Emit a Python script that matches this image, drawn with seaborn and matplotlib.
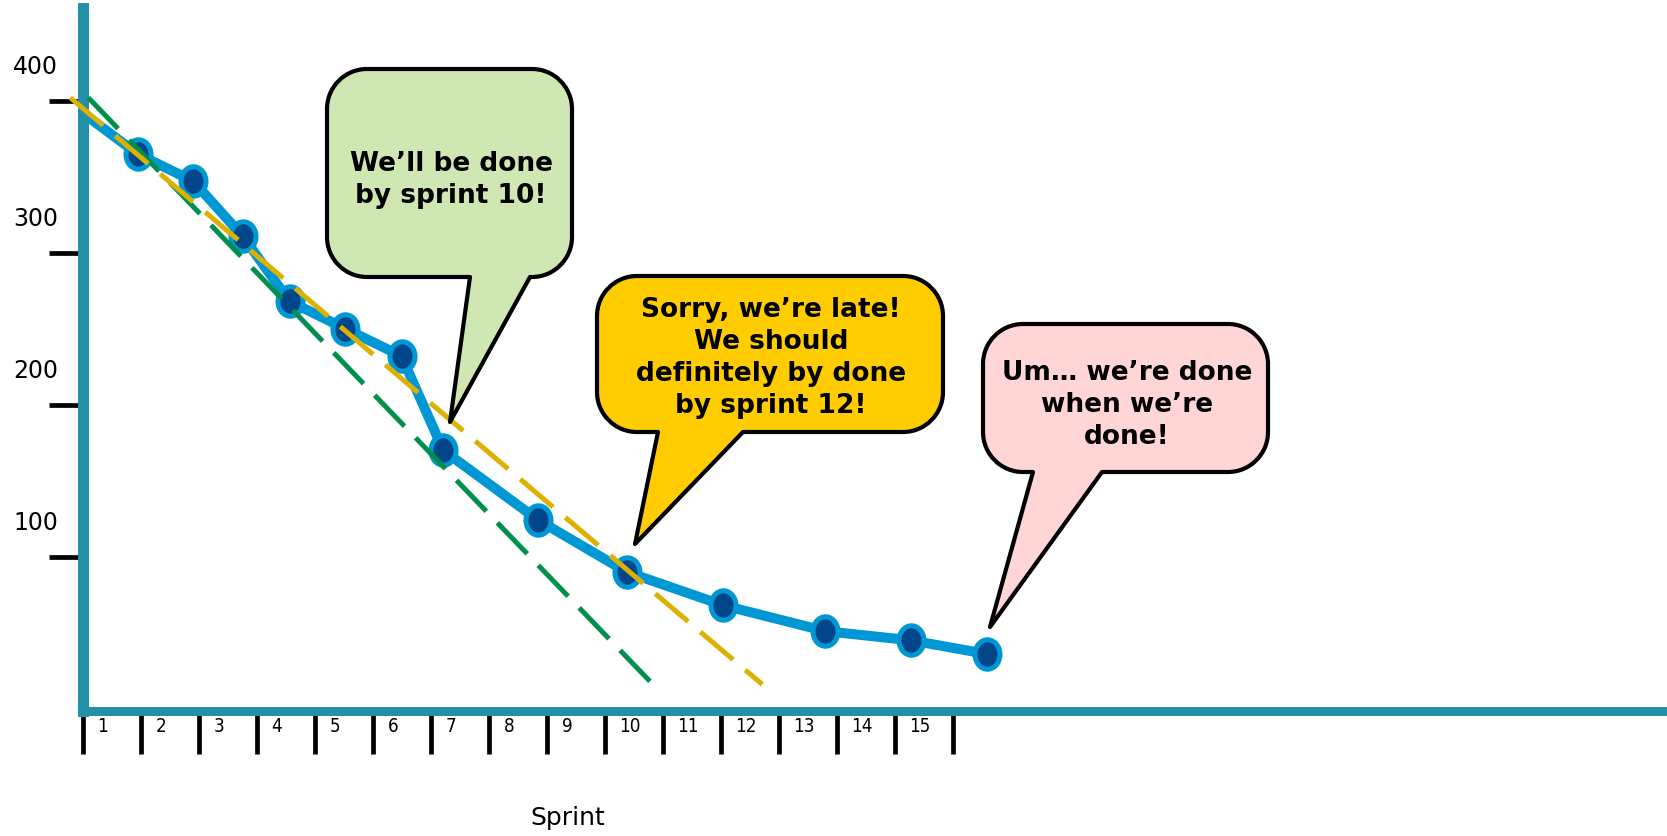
# Burndown chart avec bulles de commentaires
import matplotlib
matplotlib.use("Agg")
import matplotlib.pyplot as plt
from matplotlib.path import Path
from matplotlib.patches import PathPatch
from matplotlib.transforms import Affine2D, ScaledTranslation
import seaborn as sns

# Données
sprint_pos = [0.0, 0.95, 1.91, 2.76, 3.57, 4.53, 5.50, 6.22, 7.86, 9.38, 11.05, 12.81, 14.28, 15.59]
remaining = [392, 365, 347, 311, 268, 250, 232, 170, 124, 90, 68, 51, 45, 36]

# Projections (droites en pointillés)
plan_a_x = [0.1, 9.86]
plan_a_y = [402, 15]
plan_b_x = [-0.21, 11.72]
plan_b_y = [402, 16]

y_ticks = [100, 200, 300, 400]
y_labels = ["100", "200", "300", "400"]
x_ticks = list(range(16))
sprint_labels = [str(i) for i in range(1, 16)]

bubble_texts = [
    "We’ll be done\nby sprint 10!",
    "Sorry, we’re late!\nWe should\ndefinitely by done\nby sprint 12!",
    "Um… we’re done\nwhen we’re\ndone!",
]
bubble_colors = ["#CFE7B2", "#FFCC00", "#FFD5D5"]

# Géométrie des bulles en pixels (origine en haut à gauche)
bubble_boxes = [(327, 70, 572, 278), (597, 277, 943, 433), (983, 325, 1268, 473)]
bubble_tails = [(470, 530, 450, 423), (658, 743, 635, 545), (1033, 1102, 990, 628)]
bubble_centers = [(451, 180), (771, 358), (1127, 405)]

W, H = 1667, 837
AXIS_COL = "#2390A8"
LINE_COL = "#0098D4"
DOT_COL = "#00468A"

sns.set_theme(style="white")
plt.rcParams["font.family"] = ["DejaVu Sans"]
plt.rcParams["text.color"] = "black"
plt.rcParams["axes.labelcolor"] = "black"
plt.rcParams["xtick.color"] = "black"
plt.rcParams["ytick.color"] = "black"

fig = plt.figure(figsize=(W / 100, H / 100), dpi=100)
ax = fig.add_axes([82.5 / W, 1 - 712 / H, 1 - 82.5 / W, (712 - 9) / H])

# Courbe réelle
sns.lineplot(x=sprint_pos, y=remaining, ax=ax, color=LINE_COL, linewidth=7.2,
             estimator=None, sort=False, zorder=3, solid_capstyle="butt",
             solid_joinstyle="round")

# Marqueurs ovales
ellipse = Path.unit_circle().transformed(Affine2D().scale(0.85, 1.0))
sns.scatterplot(x=sprint_pos[1:], y=remaining[1:], ax=ax, marker=ellipse, s=450,
                color=DOT_COL, edgecolor=LINE_COL, linewidth=3.6, zorder=4)

# Projections
sns.lineplot(x=plan_a_x, y=plan_a_y, ax=ax, color="#008F4C", linewidth=3.6,
             linestyle=(0, (8.6, 3.2)), zorder=5, estimator=None, sort=False)
sns.lineplot(x=plan_b_x, y=plan_b_y, ax=ax, color="#DDB100", linewidth=3.6,
             linestyle=(0, (8.6, 3.2)), zorder=6, estimator=None, sort=False,
             clip_on=False)

ax.set_xlim(0, (W - 82.5) / 58)
ax.set_ylim((709.7 - 712) / 1.52, (709.7 - 9) / 1.52)

# Axes
for side in ["top", "right"]:
    ax.spines[side].set_visible(False)
ax.spines["left"].set_color(AXIS_COL)
ax.spines["left"].set_linewidth(7.9)
ax.spines["bottom"].set_color(AXIS_COL)
ax.spines["bottom"].set_linewidth(6.5)
for sp in ax.spines.values():
    sp.set_zorder(3.5)

ax.set_yticks(y_ticks, y_labels)
ax.tick_params(axis="y", which="major", left=True, direction="out", length=24.5,
               width=3.4, color="black", labelcolor="black", pad=-6.8, labelsize=17)
for lab in ax.get_yticklabels():
    lab.set_transform(lab.get_transform() + ScaledTranslation(0, 0.37, fig.dpi_scale_trans))

ax.set_xticks(x_ticks, [""] * len(x_ticks))
ax.set_xticks([t + 0.26 for t in x_ticks[:-1]], sprint_labels, minor=True)
ax.tick_params(axis="x", which="major", bottom=True, direction="out", length=31,
               width=3.4, color="black")
ax.tick_params(axis="x", which="minor", bottom=True, length=0, pad=3.5, labelsize=13.5,
               labelcolor="black")
for lab in ax.get_xticklabels(minor=True):
    lab.set_horizontalalignment("left")
    lab.set_fontstretch("condensed")

ax.set_xlabel("Sprint", fontsize=18, color="black")
ax.xaxis.set_label_coords((568 - 82.5) / (W - 82.5), -(818 - 712) / 703)
ax.xaxis.label.set_verticalalignment("center")
ax.set_ylabel("")


# Bulles de dialogue
def bulle(box, rad, tail, color):
    x0, y0, x1, y1 = box
    bl, br, tx, ty = tail
    k = 0.5523 * rad
    verts = [(bl, y1), (tx, ty), (br, y1), (x1 - rad, y1),
             (x1 - rad + k, y1), (x1, y1 - rad + k), (x1, y1 - rad),
             (x1, y0 + rad),
             (x1, y0 + rad - k), (x1 - rad + k, y0), (x1 - rad, y0),
             (x0 + rad, y0),
             (x0 + rad - k, y0), (x0, y0 + rad - k), (x0, y0 + rad),
             (x0, y1 - rad),
             (x0, y1 - rad + k), (x0 + rad - k, y1), (x0 + rad, y1),
             (bl, y1)]
    codes = ([Path.MOVETO, Path.LINETO, Path.LINETO, Path.LINETO]
             + [Path.CURVE4] * 3 + [Path.LINETO]
             + [Path.CURVE4] * 3 + [Path.LINETO]
             + [Path.CURVE4] * 3 + [Path.LINETO]
             + [Path.CURVE4] * 3 + [Path.CLOSEPOLY])
    trans = Affine2D().scale(1 / W, -1 / H).translate(0, 1) + fig.transFigure
    patch = PathPatch(Path(verts, codes), facecolor=color, edgecolor="black",
                      linewidth=3, joinstyle="round", transform=trans, zorder=10)
    fig.add_artist(patch)


for box, tail, col, txt, (cx, cy) in zip(bubble_boxes, bubble_tails, bubble_colors,
                                         bubble_texts, bubble_centers):
    bulle(box, 40, tail, col)
    fig.text(cx / W, 1 - cy / H, txt, ha="center", va="center", fontsize=19,
             fontweight="bold", color="black", linespacing=1.3,
             multialignment="center", zorder=11)

fig.savefig("out.png", dpi=100)
